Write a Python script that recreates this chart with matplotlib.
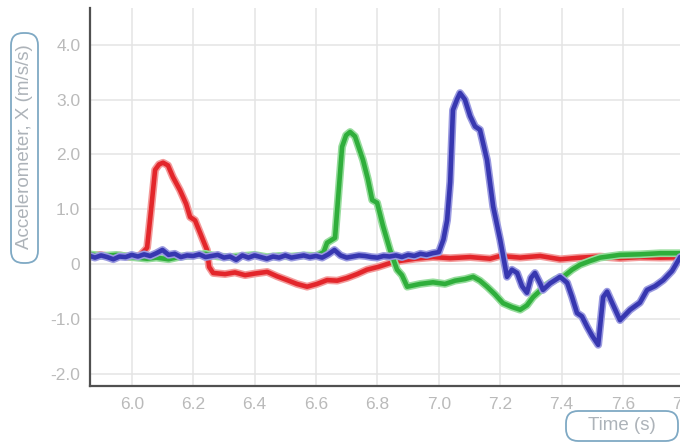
import matplotlib
matplotlib.use("Agg")
import matplotlib.pyplot as plt
import matplotlib.patheffects as pe
from matplotlib.patches import FancyBboxPatch

plt.rcParams['font.family'] = ['Liberation Sans', 'DejaVu Sans']

# accelerometer X traces, three sensors
red_t = [5.864, 5.897, 5.929, 5.962, 5.994, 6.027, 6.050, 6.063, 6.076, 6.089,
         6.102, 6.118, 6.134, 6.157, 6.177, 6.190, 6.206, 6.222, 6.232, 6.245,
         6.252, 6.265, 6.304, 6.336, 6.369, 6.401, 6.441, 6.473, 6.506, 6.538,
         6.571, 6.603, 6.636, 6.669, 6.701, 6.734, 6.766, 6.802, 6.841, 6.874,
         6.923, 6.981, 7.037, 7.102, 7.167, 7.200, 7.265, 7.330, 7.395, 7.460,
         7.525, 7.590, 7.655, 7.721, 7.818]
red_v = [0.15, 0.17, 0.14, 0.16, 0.13, 0.16, 0.30, 1.00, 1.72, 1.82,
         1.85, 1.80, 1.59, 1.35, 1.10, 0.86, 0.80, 0.58, 0.44, 0.26,
         -0.05, -0.16, -0.18, -0.15, -0.20, -0.17, -0.14, -0.22, -0.29, -0.36,
         -0.41, -0.36, -0.29, -0.30, -0.25, -0.18, -0.10, -0.05, 0.02, 0.06,
         0.10, 0.13, 0.11, 0.13, 0.10, 0.15, 0.12, 0.15, 0.09, 0.12,
         0.14, 0.11, 0.13, 0.12, 0.13]

green_t = [5.864, 5.90, 5.95, 6.00, 6.05, 6.08, 6.12, 6.16, 6.20, 6.24,
           6.28, 6.32, 6.36, 6.40, 6.44, 6.48, 6.52, 6.56, 6.60, 6.625,
           6.636, 6.662, 6.672, 6.685, 6.698, 6.711, 6.727, 6.753, 6.769, 6.783,
           6.799, 6.818, 6.841, 6.864, 6.880, 6.897, 6.939, 6.981, 7.020, 7.053,
           7.086, 7.112, 7.134, 7.157, 7.183, 7.209, 7.238, 7.265, 7.287, 7.307,
           7.346, 7.379, 7.405, 7.434, 7.460, 7.493, 7.525, 7.590, 7.655, 7.721,
           7.818]
green_v = [0.18, 0.15, 0.17, 0.13, 0.10, 0.12, 0.09, 0.14, 0.16, 0.19,
           0.14, 0.13, 0.15, 0.17, 0.13, 0.15, 0.14, 0.16, 0.15, 0.22,
           0.39, 0.48, 1.20, 2.14, 2.35, 2.41, 2.33, 1.90, 1.55, 1.17,
           1.12, 0.70, 0.26, -0.10, -0.20, -0.41, -0.36, -0.33, -0.36, -0.30,
           -0.27, -0.23, -0.30, -0.41, -0.55, -0.71, -0.78, -0.83, -0.75, -0.60,
           -0.40, -0.28, -0.23, -0.10, -0.01, 0.06, 0.12, 0.17, 0.18, 0.20,
           0.20]

blue_t = [5.864, 5.88, 5.90, 5.92, 5.94, 5.96, 5.98, 6.00, 6.02, 6.04,
          6.06, 6.08, 6.10, 6.12, 6.14, 6.16, 6.18, 6.20, 6.22, 6.24,
          6.26, 6.28, 6.30, 6.32, 6.34, 6.36, 6.38, 6.40, 6.42, 6.44,
          6.46, 6.48, 6.50, 6.52, 6.54, 6.56, 6.58, 6.60, 6.62, 6.64,
          6.66, 6.68, 6.70, 6.72, 6.74, 6.76, 6.78, 6.80, 6.82, 6.84,
          6.86, 6.88, 6.90, 6.92, 6.94, 6.96, 6.98, 7.00, 7.015, 7.027,
          7.037, 7.046, 7.059, 7.069, 7.085, 7.102, 7.118, 7.134, 7.157, 7.177,
          7.200, 7.222, 7.238, 7.255, 7.271, 7.287, 7.300, 7.313, 7.330, 7.339,
          7.362, 7.395, 7.418, 7.434, 7.450, 7.466, 7.483, 7.499, 7.519, 7.535,
          7.548, 7.564, 7.590, 7.623, 7.655, 7.678, 7.704, 7.731, 7.760, 7.786,
          7.818]
blue_v = [0.15, 0.12, 0.16, 0.13, 0.09, 0.14, 0.13, 0.17, 0.14, 0.18,
          0.15, 0.20, 0.26, 0.17, 0.19, 0.13, 0.16, 0.15, 0.18, 0.13,
          0.15, 0.17, 0.12, 0.14, 0.08, 0.16, 0.12, 0.16, 0.13, 0.10,
          0.14, 0.12, 0.16, 0.12, 0.14, 0.16, 0.13, 0.15, 0.12, 0.18,
          0.26, 0.16, 0.12, 0.14, 0.16, 0.15, 0.13, 0.12, 0.15, 0.14,
          0.16, 0.13, 0.17, 0.15, 0.19, 0.17, 0.20, 0.22, 0.45, 0.80,
          1.50, 2.81, 3.00, 3.12, 3.00, 2.70, 2.51, 2.45, 1.90, 1.05,
          0.44, -0.23, -0.10, -0.16, -0.40, -0.52, -0.25, -0.16, -0.35, -0.47,
          -0.35, -0.23, -0.34, -0.60, -0.89, -0.95, -1.14, -1.30, -1.47, -0.60,
          -0.50, -0.70, -1.02, -0.83, -0.70, -0.47, -0.40, -0.29, -0.12, 0.13,
          0.18]

x_ticks = [6.0, 6.2, 6.4, 6.6, 6.8, 7.0, 7.2, 7.4, 7.6, 7.8]
x_labels = ['6.0', '6.2', '6.4', '6.6', '6.8', '7.0', '7.2', '7.4', '7.6', '7.8']
y_ticks = [4, 3, 2, 1, 0, -1, -2]
y_labels = ['4.0', '3.0', '2.0', '1.0', '0', '-1.0', '-2.0']

W, H = 680, 445
fig = plt.figure(figsize=(W / 100, H / 100), dpi=100)
ax = fig.add_axes([90 / W, (H - 386) / H, 600 / W, 378 / H])

series = [
    (red_t, red_v, '#e3262b', '#f39a9a'),
    (green_t, green_v, '#2fae3b', '#96dc9c'),
    (blue_t, blue_v, '#3737b0', '#9a9ae0'),
]
for t, v, core, glow in series:
    ax.plot(t, v, color=core, lw=3.3, solid_joinstyle='round',
            path_effects=[pe.Stroke(linewidth=5.6, foreground=glow), pe.Normal()])

ax.set_xlim(5.864, 7.818)
ax.set_ylim(-2.22, 4.67)
ax.set_xticks(x_ticks)
ax.set_xticklabels(x_labels)
ax.set_yticks(y_ticks)
ax.set_yticklabels(y_labels)
ax.tick_params(length=0, labelsize=12.5, labelcolor='#bababa')
ax.tick_params(axis='y', pad=7)
ax.tick_params(axis='x', pad=8)
ax.grid(True, color='#e4e4e4', lw=1.1)
ax.set_axisbelow(True)
for s in ['top', 'right']:
    ax.spines[s].set_visible(False)
for s in ['left', 'bottom']:
    ax.spines[s].set_color('#505050')
    ax.spines[s].set_linewidth(1.6)

# rounded label boxes
box_kw = dict(boxstyle='round,pad=0,rounding_size=0.018', fc='white',
              ec='#7fa9c4', lw=1.3, transform=fig.transFigure)
fig.patches.append(FancyBboxPatch((11 / W, (H - 263) / H), 27 / W, 230 / H,
                                  mutation_aspect=W / H, **box_kw))
fig.patches.append(FancyBboxPatch((566 / W, (H - 441) / H), 112 / W, 30 / H,
                                  mutation_aspect=W / H, **box_kw))
fig.text(24.5 / W, (H - 147) / H, 'Accelerometer, X (m/s/s)', rotation=90,
         ha='center', va='center', fontsize=13.5, color='#adb3b9')
fig.text(622 / W, (H - 426) / H, 'Time (s)', ha='center', va='center',
         fontsize=13.5, color='#adb3b9')

fig.savefig('out.png', dpi=100)
